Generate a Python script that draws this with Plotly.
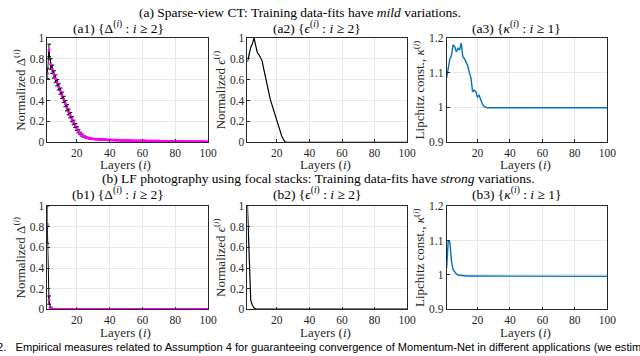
import plotly.graph_objects as go

# ---- data ----
layers_from2 = list(range(2, 101))
layers_from1 = list(range(1, 101))

# (a1) normalized Delta, mean (magenta) and spread (black error bars)
a1_delta = [
    0.66, 0.88, 0.75, 0.70, 0.65, 0.61, 0.57, 0.53, 0.49, 0.45,
    0.41, 0.37, 0.33, 0.29, 0.26, 0.22, 0.19, 0.16, 0.13, 0.105,
    0.085, 0.07, 0.058, 0.05, 0.044, 0.04, 0.036, 0.033, 0.031, 0.03,
    0.029, 0.028, 0.027, 0.026, 0.025, 0.025, 0.024, 0.023, 0.022, 0.021,
    0.021, 0.020, 0.020, 0.019, 0.019, 0.018, 0.018, 0.017, 0.017, 0.016,
    0.016, 0.016, 0.015, 0.015, 0.015, 0.014, 0.014, 0.014, 0.013, 0.013,
    0.013, 0.012, 0.012, 0.012, 0.012, 0.011, 0.011, 0.011, 0.011, 0.010,
    0.010, 0.010, 0.010, 0.010, 0.009, 0.009, 0.009, 0.009, 0.009, 0.008,
    0.008, 0.008, 0.008, 0.008, 0.008, 0.007, 0.007, 0.007, 0.007, 0.007,
    0.007, 0.006, 0.006, 0.006, 0.006, 0.006, 0.006, 0.005, 0.005,
]
a1_err = [
    0.05, 0.06, 0.05, 0.04, 0.035, 0.035, 0.03, 0.03, 0.03, 0.03,
    0.03, 0.03, 0.03, 0.028, 0.026, 0.024, 0.022, 0.02, 0.018, 0.015,
    0.012, 0.01, 0.008, 0.006, 0.005, 0.004, 0.004, 0.003, 0.003, 0.003,
    0.003, 0.003, 0.003, 0.003, 0.003, 0.003, 0.003, 0.003, 0.003, 0.003,
    0.003, 0.003, 0.003, 0.003, 0.003, 0.003, 0.003, 0.003, 0.003, 0.003,
    0.002, 0.002, 0.002, 0.002, 0.002, 0.002, 0.002, 0.002, 0.002, 0.002,
    0.002, 0.002, 0.002, 0.002, 0.002, 0.002, 0.002, 0.002, 0.002, 0.002,
    0.002, 0.002, 0.002, 0.002, 0.002, 0.002, 0.002, 0.002, 0.002, 0.002,
    0.002, 0.002, 0.002, 0.002, 0.002, 0.002, 0.002, 0.002, 0.002, 0.002,
    0.002, 0.002, 0.002, 0.002, 0.002, 0.002, 0.002, 0.002, 0.002,
]

# (a2) normalized epsilon
a2_eps = [
    0.77, 0.86, 0.91, 0.94, 1.0, 0.93, 0.86, 0.84, 0.81, 0.78,
    0.70, 0.62, 0.56, 0.49, 0.41, 0.36, 0.31, 0.26, 0.20, 0.15,
    0.10, 0.06, 0.03, 0.005, 0, 0, 0, 0, 0, 0,
    0, 0, 0, 0, 0, 0, 0, 0, 0, 0,
    0, 0, 0, 0, 0, 0, 0, 0, 0, 0,
    0, 0, 0, 0, 0, 0, 0, 0, 0, 0,
    0, 0, 0, 0, 0, 0, 0, 0, 0, 0,
    0, 0, 0, 0, 0, 0, 0, 0, 0, 0,
    0, 0, 0, 0, 0, 0, 0, 0, 0, 0,
    0, 0, 0, 0, 0, 0, 0, 0, 0,
]

# (a3) Lipschitz constant kappa
a3_kappa = [
    1.085, 1.12, 1.14, 1.15, 1.18, 1.175, 1.16, 1.17, 1.165, 1.185,
    1.145, 1.14, 1.13, 1.12, 1.10, 1.085, 1.045, 1.05, 1.045, 1.03,
    1.035, 1.02, 1.01, 1.003, 1.0, 0.999, 0.999, 0.999, 0.999, 0.999,
    0.999, 0.999, 0.999, 0.999, 0.999, 0.999, 0.999, 0.999, 0.999, 0.999,
    0.999, 0.999, 0.999, 0.999, 0.999, 0.999, 0.999, 0.999, 0.999, 0.999,
    0.999, 0.999, 0.999, 0.999, 0.999, 0.999, 0.999, 0.999, 0.999, 0.999,
    0.999, 0.999, 0.999, 0.999, 0.999, 0.999, 0.999, 0.999, 0.999, 0.999,
    0.999, 0.999, 0.999, 0.999, 0.999, 0.999, 0.999, 0.999, 0.999, 0.999,
    0.999, 0.999, 0.999, 0.999, 0.999, 0.999, 0.999, 0.999, 0.999, 0.999,
    0.999, 0.999, 0.999, 0.999, 0.999, 0.999, 0.999, 0.999, 0.999, 0.999,
]

# (b1) normalized Delta
b1_delta = [
    0.82, 0.09, 0.012, 0.004, 0.002, 0.001, 0.001, 0.001, 0.001, 0.001,
    0.001, 0.001, 0.001, 0.001, 0.001, 0.001, 0.001, 0.001, 0.001, 0.001,
    0.001, 0.001, 0.001, 0.001, 0.001, 0.001, 0.001, 0.001, 0.001, 0.001,
    0.001, 0.001, 0.001, 0.001, 0.001, 0.001, 0.001, 0.001, 0.001, 0.001,
    0.001, 0.001, 0.001, 0.001, 0.001, 0.001, 0.001, 0.001, 0.001, 0.001,
    0.001, 0.001, 0.001, 0.001, 0.001, 0.001, 0.001, 0.001, 0.001, 0.001,
    0.001, 0.001, 0.001, 0.001, 0.001, 0.001, 0.001, 0.001, 0.001, 0.001,
    0.001, 0.001, 0.001, 0.001, 0.001, 0.001, 0.001, 0.001, 0.001, 0.001,
    0.001, 0.001, 0.001, 0.001, 0.001, 0.001, 0.001, 0.001, 0.001, 0.001,
    0.001, 0.001, 0.001, 0.001, 0.001, 0.001, 0.001, 0.001, 0.001,
]
b1_err = [
    0.18, 0.04, 0.01, 0.003, 0.001, 0, 0, 0, 0, 0,
    0, 0, 0, 0, 0, 0, 0, 0, 0, 0,
    0, 0, 0, 0, 0, 0, 0, 0, 0, 0,
    0, 0, 0, 0, 0, 0, 0, 0, 0, 0,
    0, 0, 0, 0, 0, 0, 0, 0, 0, 0,
    0, 0, 0, 0, 0, 0, 0, 0, 0, 0,
    0, 0, 0, 0, 0, 0, 0, 0, 0, 0,
    0, 0, 0, 0, 0, 0, 0, 0, 0, 0,
    0, 0, 0, 0, 0, 0, 0, 0, 0, 0,
    0, 0, 0, 0, 0, 0, 0, 0, 0,
]

# (b2) normalized epsilon
b2_eps = [
    1.0, 0.5, 0.09, 0.04, 0.015, 0.006, 0.004, 0.003, 0.002, 0.002,
    0.002, 0.002, 0.002, 0.002, 0.002, 0.002, 0.002, 0.002, 0.002, 0.002,
    0.002, 0.002, 0.002, 0.002, 0.002, 0.002, 0.002, 0.002, 0.002, 0.002,
    0.002, 0.002, 0.002, 0.002, 0.002, 0.002, 0.002, 0.002, 0.002, 0.002,
    0.002, 0.002, 0.002, 0.002, 0.002, 0.002, 0.002, 0.002, 0.002, 0.002,
    0.002, 0.002, 0.002, 0.002, 0.002, 0.002, 0.002, 0.002, 0.002, 0.002,
    0.002, 0.002, 0.002, 0.002, 0.002, 0.002, 0.002, 0.002, 0.002, 0.002,
    0.002, 0.002, 0.002, 0.002, 0.002, 0.002, 0.002, 0.002, 0.002, 0.002,
    0.002, 0.002, 0.002, 0.002, 0.002, 0.002, 0.002, 0.002, 0.002, 0.002,
    0.002, 0.002, 0.002, 0.002, 0.002, 0.002, 0.002, 0.002, 0.002,
]

# (b3) Lipschitz constant kappa
b3_kappa = [
    1.02, 1.10, 1.095, 1.04, 1.015, 1.007, 1.003, 1.0, 0.999, 0.998,
    0.997, 0.997, 0.997, 0.997, 0.997, 0.997, 0.997, 0.997, 0.997, 0.997,
    0.997, 0.997, 0.997, 0.997, 0.997, 0.997, 0.997, 0.997, 0.997, 0.997,
    0.997, 0.997, 0.997, 0.997, 0.997, 0.997, 0.997, 0.997, 0.997, 0.997,
    0.997, 0.997, 0.997, 0.997, 0.997, 0.997, 0.997, 0.997, 0.997, 0.997,
    0.997, 0.997, 0.997, 0.997, 0.997, 0.997, 0.997, 0.997, 0.997, 0.997,
    0.997, 0.997, 0.997, 0.997, 0.997, 0.997, 0.997, 0.997, 0.997, 0.997,
    0.997, 0.997, 0.997, 0.997, 0.997, 0.997, 0.997, 0.997, 0.997, 0.997,
    0.997, 0.997, 0.997, 0.997, 0.997, 0.997, 0.997, 0.997, 0.997, 0.997,
    0.997, 0.997, 0.997, 0.997, 0.997, 0.997, 0.997, 0.997, 0.997, 0.996,
]

x_ticks = [20, 40, 60, 80, 100]
delta_ticks = [0, 0.2, 0.4, 0.6, 0.8, 1]
delta_ticktext = ['0', '0.2', '0.4', '0.6', '0.8', '1']
kappa_ticks = [0.9, 1.0, 1.1, 1.2]
kappa_ticktext = ['0.9', '1', '1.1', '1.2']

W, H = 640, 356
SERIF = 'Liberation Serif, Times New Roman, serif'
BLACK = '#000000'
MAGENTA = '#FF00FF'
BLUE = '#0072BD'
AXCOL = '#262626'

fig = go.Figure()


def px_x(p):
    return p / W


def px_y(p):
    return 1 - p / H


col_px = [(48, 211), (251, 413), (453, 616)]
col_dom = [(px_x(a), px_x(b)) for a, b in col_px]
row_dom = [(px_y(141), px_y(33)), (px_y(314), px_y(207))]


def add_err_panel(n, x, y, err):
    fig.add_trace(go.Scatter(
        x=x, y=y, mode='lines', line=dict(color=BLACK, width=1),
        error_y=dict(type='data', array=err, color=BLACK, thickness=1, width=2),
        xaxis=f'x{n}', yaxis=f'y{n}', showlegend=False))
    fig.add_trace(go.Scatter(
        x=x, y=y, mode='markers',
        marker=dict(color=MAGENTA, size=2.6, symbol='square'),
        xaxis=f'x{n}', yaxis=f'y{n}', showlegend=False))


add_err_panel(1, layers_from2, a1_delta, a1_err)
fig.add_trace(go.Scatter(x=layers_from2, y=a2_eps, mode='lines',
                         line=dict(color=BLACK, width=1.2),
                         xaxis='x2', yaxis='y2', showlegend=False))
fig.add_trace(go.Scatter(x=layers_from1, y=a3_kappa, mode='lines',
                         line=dict(color=BLUE, width=1.4),
                         xaxis='x3', yaxis='y3', showlegend=False))
add_err_panel(4, layers_from2, b1_delta, b1_err)
fig.add_trace(go.Scatter(x=layers_from2, y=b2_eps, mode='lines',
                         line=dict(color=BLACK, width=1.2),
                         xaxis='x5', yaxis='y5', showlegend=False))
fig.add_trace(go.Scatter(x=layers_from1, y=b3_kappa, mode='lines',
                         line=dict(color=BLUE, width=1.4),
                         xaxis='x6', yaxis='y6', showlegend=False))

axis_common = dict(
    showline=True, mirror=True, linecolor=AXCOL, linewidth=0.8,
    showgrid=True, gridcolor='#e8e8e8', gridwidth=1,
    ticks='inside', ticklen=3, tickcolor=AXCOL,
    zeroline=False, tickfont=dict(family=SERIF, size=11.5, color=AXCOL),
)

y_titles = [
    'Normalized Δ<sup>(<i>i</i>)</sup>',
    'Normalized <i>ϵ</i><sup>(<i>i</i>)</sup>',
    'Lipchitz const., <i>κ</i><sup>(<i>i</i>)</sup>',
]

layout_axes = {}
for r in range(2):
    for c in range(3):
        n = r * 3 + c + 1
        xa = dict(axis_common, domain=col_dom[c], anchor=f'y{n}',
                  range=[1, 100] if c == 2 else [2, 100],
                  tickvals=x_ticks)
        if c == 2:
            ya = dict(axis_common, range=[0.9, 1.2], tickvals=kappa_ticks,
                      ticktext=kappa_ticktext)
        else:
            ya = dict(axis_common, range=[0, 1], tickvals=delta_ticks,
                      ticktext=delta_ticktext)
        ya.update(domain=row_dom[r], anchor=f'x{n}',
                  title=dict(text=y_titles[c], standoff=1,
                             font=dict(family=SERIF, size=13, color=AXCOL)))
        layout_axes[f'xaxis{n}'] = xa
        layout_axes[f'yaxis{n}'] = ya

fig.update_layout(**layout_axes)

sub_titles = [
    ['(a1) {Δ<sup>(<i>i</i>)</sup> : <i>i</i> ≥ 2}',
     '(a2) {<i>ϵ</i><sup>(<i>i</i>)</sup> : <i>i</i> ≥ 2}',
     '(a3) {<i>κ</i><sup>(<i>i</i>)</sup> : <i>i</i> ≥ 1}'],
    ['(b1) {Δ<sup>(<i>i</i>)</sup> : <i>i</i> ≥ 2}',
     '(b2) {<i>ϵ</i><sup>(<i>i</i>)</sup> : <i>i</i> ≥ 2}',
     '(b3) {<i>κ</i><sup>(<i>i</i>)</sup> : <i>i</i> ≥ 1}'],
]
sub_centers = [120, 322, 524]
sub_y = [22, 194]
xlabel_y = [164, 338]

annotations = []
for r in range(2):
    for c in range(3):
        annotations.append(dict(
            text=sub_titles[r][c], x=px_x(sub_centers[c]), y=px_y(sub_y[r]),
            xref='paper', yref='paper', xanchor='center', yanchor='middle',
            showarrow=False, font=dict(family=SERIF, size=13.5, color='#000')))
        annotations.append(dict(
            text='Layers (<i>i</i>)', x=px_x(sum(col_px[c]) / 2 - 2),
            y=px_y(xlabel_y[r]), xref='paper', yref='paper',
            xanchor='center', yanchor='middle', showarrow=False,
            font=dict(family=SERIF, size=13, color=AXCOL)))

annotations.append(dict(
    text='(a) Sparse-view CT: Training data-fits have <i>mild</i> variations.',
    x=px_x(304), y=px_y(7), xref='paper', yref='paper',
    xanchor='center', yanchor='middle', showarrow=False,
    font=dict(family=SERIF, size=13.5, color='#000')))
annotations.append(dict(
    text='(b) LF photography using focal stacks: Training data-fits have <i>strong</i> variations.',
    x=px_x(323), y=px_y(178), xref='paper', yref='paper',
    xanchor='center', yanchor='middle', showarrow=False,
    font=dict(family=SERIF, size=13.5, color='#000')))
annotations.append(dict(
    text='2.   Empirical measures related to Assumption 4 for guaranteeing convergence of '
         'Momentum-Net in different applications (we estimated',
    x=px_x(-5), y=px_y(353), xref='paper', yref='paper',
    xanchor='left', yanchor='middle', showarrow=False,
    font=dict(family='Liberation Sans, Arial, sans-serif', size=11.1, color='#000')))

fig.update_layout(
    width=W, height=H,
    margin=dict(l=0, r=0, t=0, b=0),
    paper_bgcolor='white', plot_bgcolor='white',
    annotations=annotations,
)

fig.write_html("out.html", config={'displayModeBar': False},
               post_script="document.body.style.margin='0';")
